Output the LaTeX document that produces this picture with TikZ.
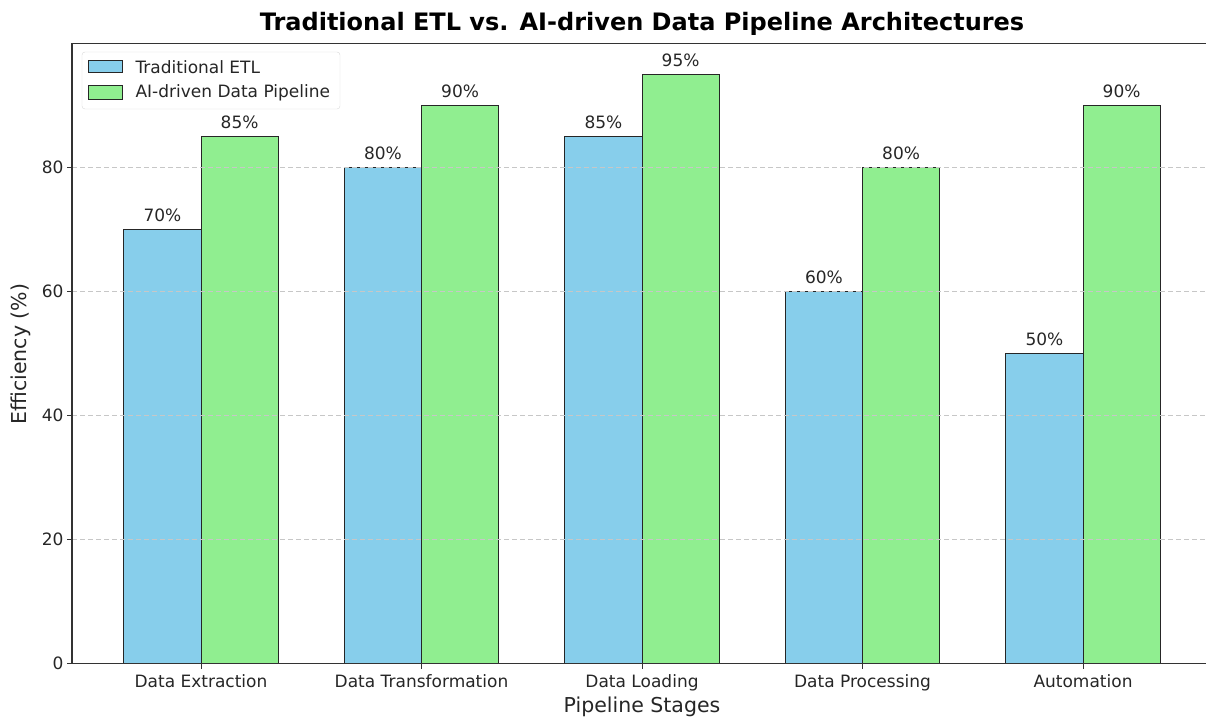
\documentclass[tikz,border=0pt]{standalone}
\usepackage{fontspec}
\setmainfont{DejaVu Sans}
\usepackage{tikz}
\usetikzlibrary{positioning}
\definecolor{etlblue}{HTML}{87CEEB}
\definecolor{aigreen}{HTML}{90EE90}

\begin{document}
\begin{tikzpicture}[x=1pt,y=1pt,
  bar/.style={draw=black!85, line width=1pt},
  smalltext/.style={font=\fontsize{17}{20}\selectfont, text=black!85},
  axlabel/.style={font=\fontsize{20.5}{24}\selectfont, text=black!85},
  gridline/.style={draw=black!22, line width=0.8pt, dash pattern=on 5pt off 3pt},
  spine/.style={draw=black!80, line width=1.1pt}]
  \useasboundingbox (0,0) rectangle (1206,717);
  % title and axis labels
  \node[font=\bfseries\fontsize{24}{28}\selectfont] (title) at (642,693) {Traditional ETL vs. AI-driven Data Pipeline Architectures};
  \node[axlabel, rotate=90] (ylab) at (21,363) {Efficiency (\%)};
  \node[axlabel] (xlab) at (642,10) {Pipeline Stages};
  \begin{scope}[shift={(201,53.5)}, x=220.5pt, y=6.2pt]
    % bars with value labels
    \foreach \i/\a/\b in {0/70/85, 1/80/90, 2/85/95, 3/60/80, 4/50/90} {
      \draw[bar, fill=etlblue] (\i-0.35,0) rectangle (\i,\a);
      \draw[bar, fill=aigreen] (\i,0) rectangle (\i+0.35,\b);
      \coordinate (etltop\i) at (\i-0.175,\a);
      \coordinate (aitop\i) at (\i+0.175,\b);
      \node[smalltext, above=4.5pt of etltop\i] (etlval\i) {\a\%};
      \node[smalltext, above=4.5pt of aitop\i] (aival\i) {\b\%};
    }
    % grid
    \foreach \v in {20,40,60,80}
      \draw[gridline] (-0.585,\v) -- (4.56,\v);
    % spines
    \draw[spine] (4.56,100) -- (-0.585,100) -- (-0.585,0) -- (4.56,0);
    % y ticks
    \foreach \v in {0,20,40,60,80}
      \draw[spine, line width=0.9pt] (-0.585,\v) -- ++(-5pt,0) node[smalltext, left, inner sep=3pt] (ytick\v) {\v};
    % x ticks
    \foreach \i/\name in {0/Data Extraction, 1/Data Transformation, 2/Data Loading, 3/Data Processing, 4/Automation}
      \draw[spine, line width=0.9pt] (\i,0) -- ++(0,-5pt) node[smalltext, below, inner sep=5.5pt] (xtick\i) {\name};
  \end{scope}
  % legend
  \draw[draw=black!15, fill=white, rounded corners=3pt] (82,665) rectangle (340,608);
  \draw[bar, fill=etlblue] (88,656) rectangle (122,644);
  \draw[bar, fill=aigreen] (88,631) rectangle (122,617);
  \node[smalltext, anchor=west] (legetl) at (132,650) {Traditional ETL};
  \node[smalltext, anchor=west] (legai) at (132,624) {AI-driven Data Pipeline};
\end{tikzpicture}
\end{document}
